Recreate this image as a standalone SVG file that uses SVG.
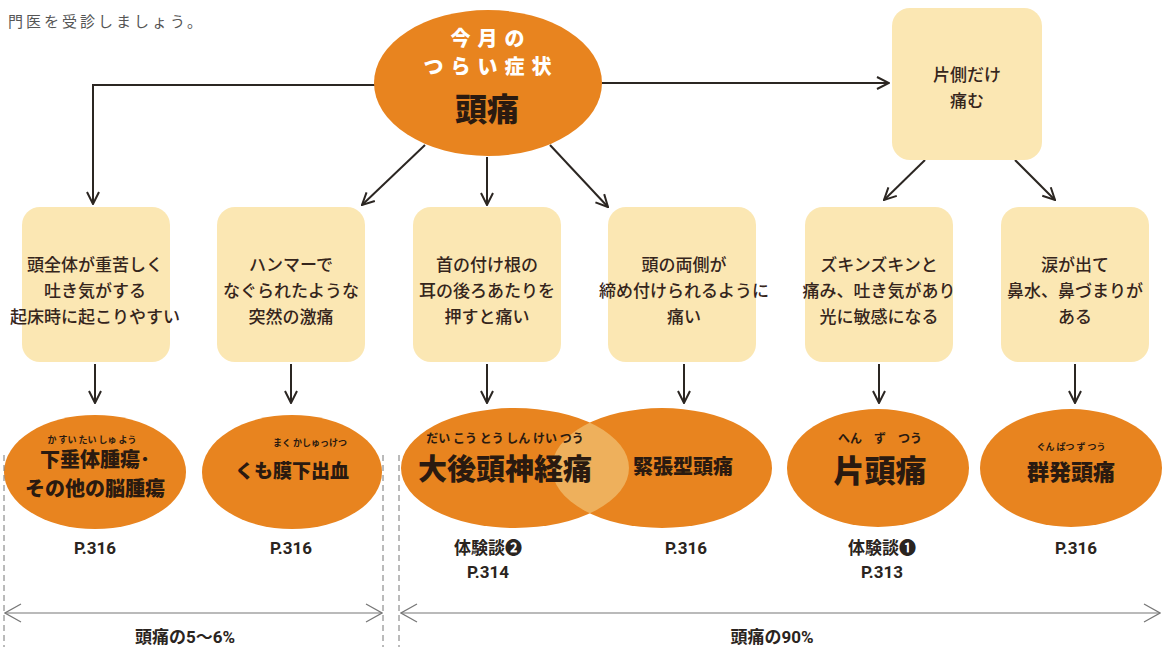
<svg xmlns="http://www.w3.org/2000/svg" width="1162" height="647" viewBox="0 0 1162 647">
<style>
.box{fill:#fbe7b3}
.ell{fill:#e8841f}
.bt{font-family:"Noto Sans CJK JP",sans-serif;font-size:17px;font-weight:500;fill:#35251c;text-anchor:middle}
.et{font-family:"Noto Sans CJK JP",sans-serif;font-weight:900;fill:#2a1a10;text-anchor:middle}
.fu{font-weight:700}
.wt{font-family:"Noto Sans CJK JP",sans-serif;font-size:20px;font-weight:900;fill:#ffffff;text-anchor:middle;letter-spacing:7px}
.lb{font-family:"Roboto","Noto Sans CJK JP","DejaVu Sans",sans-serif;font-size:17px;font-weight:700;fill:#2a2420;text-anchor:middle}
.con{fill:none;stroke:#2b2622;stroke-width:2}
.dim{fill:none;stroke:#777;stroke-width:1.2}
.dash{fill:none;stroke:#777;stroke-width:1;stroke-dasharray:6 4}
</style>
<defs>
<marker id="ah" viewBox="0 0 14 14" refX="13" refY="7" markerWidth="14" markerHeight="14" markerUnits="userSpaceOnUse" orient="auto-start-reverse">
<path d="M1,1 L13,7 L1,13" fill="none" stroke="#2b2622" stroke-width="2"/>
</marker>
<marker id="ah2" viewBox="0 0 18 20" refX="17" refY="10" markerWidth="18" markerHeight="20" markerUnits="userSpaceOnUse" orient="auto-start-reverse">
<path d="M1,1 L17,10 L1,19" fill="none" stroke="#777" stroke-width="1.2"/>
</marker>
<clipPath id="clip3"><ellipse cx="515" cy="468" rx="114" ry="60"/></clipPath>
</defs>
<rect width="1162" height="647" fill="#ffffff"/>

<text x="8" y="27" style="font-family:'Noto Sans CJK JP',sans-serif;font-size:15px;fill:#555;letter-spacing:3px">門医を受診しましょう。</text>

<g id="connectors">
<path class="con" d="M375,85 H93 V204" marker-end="url(#ah)"/>
<path class="con" d="M602,83 H889" marker-end="url(#ah)"/>
<path class="con" d="M425,145 L362,205" marker-end="url(#ah)"/>
<path class="con" d="M487,157 V205" marker-end="url(#ah)"/>
<path class="con" d="M550,145 L608,207" marker-end="url(#ah)"/>
<path class="con" d="M925,160 L884,200" marker-end="url(#ah)"/>
<path class="con" d="M1015,160 L1055,200" marker-end="url(#ah)"/>
<path class="con" d="M95,364 V403" marker-end="url(#ah)"/>
<path class="con" d="M291,364 V403" marker-end="url(#ah)"/>
<path class="con" d="M487,364 V403" marker-end="url(#ah)"/>
<path class="con" d="M684,364 V403" marker-end="url(#ah)"/>
<path class="con" d="M879,364 V403" marker-end="url(#ah)"/>
<path class="con" d="M1075,364 V403" marker-end="url(#ah)"/>
</g>

<g id="center">
<ellipse class="ell" cx="488" cy="83" rx="114" ry="73"/>
<text class="wt"><tspan x="491" y="46">今月の</tspan><tspan x="491" y="74">つらい症状</tspan></text>
<text class="et" x="487" y="121" style="font-size:32px">頭痛</text>
</g>

<g id="side">
<rect class="box" x="892" y="8" width="150" height="152" rx="18"/>
<text class="bt"><tspan x="967" y="81">片側だけ</tspan><tspan x="967" y="107">痛む</tspan></text>
</g>

<g id="box1">
<rect class="box" x="22" y="207" width="148" height="155" rx="18"/>
<text class="bt"><tspan x="95" y="271">頭全体が重苦しく</tspan><tspan x="95" y="297">吐き気がする</tspan><tspan x="95" y="323">起床時に起こりやすい</tspan></text>
</g>
<g id="box2">
<rect class="box" x="217" y="207" width="148" height="155" rx="18"/>
<text class="bt"><tspan x="291" y="271">ハンマーで</tspan><tspan x="291" y="297">なぐられたような</tspan><tspan x="291" y="323">突然の激痛</tspan></text>
</g>
<g id="box3">
<rect class="box" x="413" y="207" width="148" height="155" rx="18"/>
<text class="bt"><tspan x="487" y="271">首の付け根の</tspan><tspan x="487" y="297">耳の後ろあたりを</tspan><tspan x="487" y="323">押すと痛い</tspan></text>
</g>
<g id="box4">
<rect class="box" x="608" y="207" width="148" height="155" rx="18"/>
<text class="bt"><tspan x="684" y="271">頭の両側が</tspan><tspan x="684" y="297">締め付けられるように</tspan><tspan x="684" y="323">痛い</tspan></text>
</g>
<g id="box5">
<rect class="box" x="805" y="207" width="148" height="155" rx="18"/>
<text class="bt"><tspan x="879" y="271">ズキンズキンと</tspan><tspan x="879" y="297">痛み、吐き気があり</tspan><tspan x="879" y="323">光に敏感になる</tspan></text>
</g>
<g id="box6">
<rect class="box" x="1001" y="207" width="148" height="155" rx="18"/>
<text class="bt"><tspan x="1075" y="271">涙が出て</tspan><tspan x="1075" y="297">鼻水、鼻づまりが</tspan><tspan x="1075" y="323">ある</tspan></text>
</g>

<g id="ell1">
<ellipse class="ell" cx="95" cy="472" rx="91" ry="57"/>
<text class="et"><tspan class="fu" x="92" y="443" style="font-size:9px">か すい たい しゅ よう</tspan><tspan x="95" y="467" style="font-size:20px">下垂体腫瘍･</tspan><tspan x="95" y="496" style="font-size:20px">その他の脳腫瘍</tspan></text>
</g>
<g id="ell2">
<ellipse class="ell" cx="292" cy="472" rx="90" ry="57"/>
<text class="et"><tspan class="fu" x="310" y="446" style="font-size:9px">まく かしゅっけつ</tspan><tspan x="292" y="478" style="font-size:19px">くも膜下出血</tspan></text>
</g>
<g id="ell3">
<ellipse class="ell" cx="515" cy="468" rx="114" ry="60"/>
</g>
<g id="ell4">
<ellipse class="ell" cx="662" cy="468" rx="110" ry="60"/>
<ellipse cx="662" cy="468" rx="110" ry="60" fill="#eeb05c" clip-path="url(#clip3)"/>
<text class="et" x="683" y="474" style="font-size:20px">緊張型頭痛</text>
</g>
<g id="ell3text">
<text class="et"><tspan class="fu" x="505" y="443" style="font-size:12px">だい こう とう しん けい つう</tspan><tspan x="505" y="480" style="font-size:29px">大後頭神経痛</tspan></text>
</g>
<g id="ell5">
<ellipse class="ell" cx="878" cy="468" rx="91" ry="59"/>
<text class="et"><tspan class="fu" x="880" y="443" style="font-size:12px">へん　ず　つう</tspan><tspan x="880" y="482" style="font-size:31px">片頭痛</tspan></text>
</g>
<g id="ell6">
<ellipse class="ell" cx="1071" cy="468" rx="91" ry="59"/>
<text class="et"><tspan class="fu" x="1071" y="450" style="font-size:9px">ぐん ぱつ ず つう</tspan><tspan x="1071" y="480" style="font-size:22px">群発頭痛</tspan></text>
</g>

<g id="labels">
<text class="lb" x="95" y="554">P.316</text>
<text class="lb" x="291" y="554">P.316</text>
<text class="lb"><tspan x="488" y="554">体験談❷</tspan><tspan x="488" y="578">P.314</tspan></text>
<text class="lb" x="686" y="554">P.316</text>
<text class="lb"><tspan x="882" y="554">体験談❶</tspan><tspan x="882" y="578">P.313</tspan></text>
<text class="lb" x="1076" y="554">P.316</text>
</g>

<g id="ranges">
<path class="dash" d="M4,455 V647"/>
<path class="dash" d="M383,455 V647"/>
<path class="dash" d="M399,455 V647"/>
<path class="dim" d="M5,613 H382" marker-start="url(#ah2)" marker-end="url(#ah2)"/>
<path class="dim" d="M401,613 H1160" marker-start="url(#ah2)" marker-end="url(#ah2)"/>
<text class="lb" x="185" y="643">頭痛の5〜6%</text>
<text class="lb" x="772" y="643">頭痛の90%</text>
</g>
</svg>
